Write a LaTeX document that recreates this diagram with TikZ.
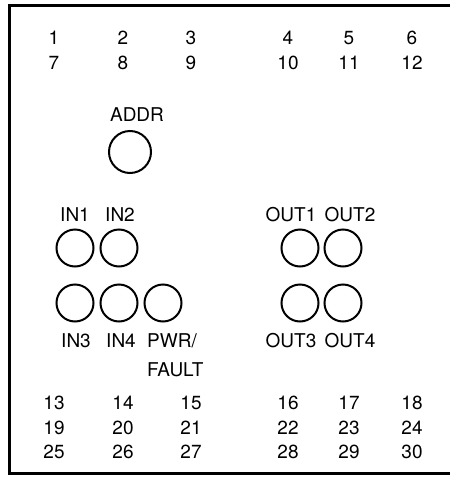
\documentclass[tikz,border=0pt]{standalone}
\usepackage{fontspec}
\setmainfont{TeX Gyre Heros}
\begin{document}
\begin{tikzpicture}[x=1pt,y=-1pt,
  lbl/.style={inner sep=0pt,font=\fontsize{19}{23}\selectfont},
  led/.style={circle,draw,line width=2pt,minimum size=37pt,inner sep=0pt},
  bigled/.style={circle,draw,line width=2pt,minimum size=42pt,inner sep=0pt}]
\useasboundingbox (0,0) rectangle (450,477);
\draw[line width=3pt] (452,5) -- (9,5) -- (9,473) -- (452,473);
% top terminal numbers
\foreach \n/\x in {1/54,2/123,3/191,4/288,5/349,6/412}
  \node[lbl] (t\n) at (\x,38) {\n};
\foreach \n/\x in {7/54,8/123,9/191,10/288,11/349,12/412}
  \node[lbl] (t\n) at (\x,63) {\n};
% bottom terminal numbers
\foreach \n/\x in {13/54,14/123,15/191,16/288,17/349,18/412}
  \node[lbl] (t\n) at (\x,403) {\n};
\foreach \n/\x in {19/54,20/123,21/191,22/288,23/349,24/412}
  \node[lbl] (t\n) at (\x,428) {\n};
\foreach \n/\x in {25/54,26/123,27/191,28/288,29/349,30/412}
  \node[lbl] (t\n) at (\x,452) {\n};
% ADDR
\node[lbl] (addrl) at (137,115) {ADDR};
\node[bigled] (addr) at (130,152) {};
% inputs
\node[lbl] (in1l) at (75,215) {IN1};
\node[lbl] (in2l) at (120,215) {IN2};
\node[led] (in1) at (75,248) {};
\node[led] (in2) at (119,248) {};
\node[led] (in3) at (75,303) {};
\node[led] (in4) at (119,303) {};
\node[led] (pwr) at (163,303) {};
\node[lbl] (in3l) at (76,341) {IN3};
\node[lbl] (in4l) at (121,341) {IN4};
\node[lbl,anchor=west] (pwrl) at (147,341) {PWR/};
\node[lbl,anchor=west] (faultl) at (147,370) {FAULT};
% outputs
\node[lbl] (out1l) at (291,215) {OUT1};
\node[lbl] (out2l) at (350,215) {OUT2};
\node[led] (out1) at (300,248) {};
\node[led] (out2) at (343,248) {};
\node[led] (out3) at (300,303) {};
\node[led] (out4) at (343,303) {};
\node[lbl] (out3l) at (291,341) {OUT3};
\node[lbl] (out4l) at (350,341) {OUT4};
\end{tikzpicture}
\end{document}
